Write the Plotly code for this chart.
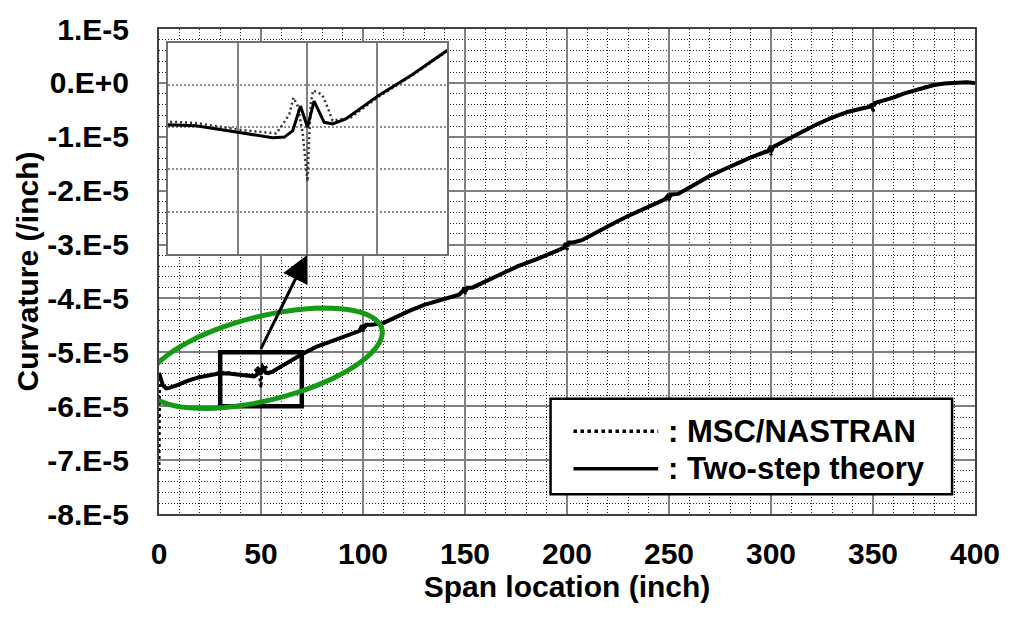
import math
import plotly.graph_objects as go

# ---------------- data (curvature values in units of 1E-5 /inch) ----------------
SCALE = 1e-5

span_two_step = [0, 1, 2, 3.5, 5, 9, 14, 19, 25,
                 30, 34, 40, 45, 46.7, 47.9, 49.0, 50.0, 50.95, 52.4, 53.6, 55.5, 60.1, 65, 70,
                 77, 83.6, 90, 96.7, 98.5, 99.5, 100.3, 101.5, 104, 109.7,
                 115, 122.7, 130, 140, 147.1, 149, 149.7, 150.3, 151.2, 153.6,
                 160, 168.3, 176, 184.6, 190, 196, 198.5, 199.3, 200.2, 201,
                 203, 207.3, 215, 223.6, 230, 236.6, 243, 248, 249.3, 250,
                 251, 254.5, 262, 269.2, 276, 282.2, 289, 295.2, 298.5, 299.4,
                 300.2, 301, 304, 308.3, 315, 321.3, 329, 337.5, 345, 349,
                 349.6, 350.3, 351, 355, 360.3, 365, 370.1, 375, 379.9, 385,
                 391.3, 396, 400]
curv_two_step = [-5.38, -5.50, -5.62, -5.67, -5.66, -5.61, -5.53, -5.47, -5.42,
                 -5.389, -5.393, -5.424, -5.45, -5.447, -5.416, -5.30, -5.40, -5.276, -5.377, -5.385, -5.361, -5.252, -5.151, -5.037,
                 -4.90, -4.81, -4.73, -4.63, -4.60, -4.50, -4.56, -4.49, -4.49, -4.46,
                 -4.36, -4.23, -4.12, -4.01, -3.93, -3.86, -3.80, -3.86, -3.80, -3.80,
                 -3.68, -3.53, -3.40, -3.28, -3.20, -3.11, -3.06, -2.98, -3.03, -2.96,
                 -2.96, -2.92, -2.76, -2.59, -2.47, -2.35, -2.24, -2.16, -2.10, -2.14,
                 -2.07, -2.06, -1.90, -1.74, -1.62, -1.51, -1.40, -1.31, -1.27, -1.21,
                 -1.25, -1.19, -1.13, -1.04, -0.91, -0.79, -0.66, -0.54, -0.47, -0.44,
                 -0.39, -0.43, -0.37, -0.33, -0.27, -0.20, -0.14, -0.08, -0.04, -0.01,
                 0.01, 0.01, 0.0]

span_nastran = [0, 0.3, 2, 3.5, 5, 9, 14, 19, 25,
                30, 34, 40, 45.5, 46.4, 47.4, 48.0, 48.6, 49.3, 49.8,
                50.0, 50.2, 50.5, 50.8, 52.1, 52.9, 53.6, 56.2, 60, 65,
                70, 77, 83.6, 90, 96.7, 99, 99.7, 100, 100.3, 101.5,
                104, 109.7, 115, 122.7, 130, 140, 147.1, 149.5, 150, 150.5,
                153.6, 160, 168.3, 176, 184.6, 190, 196, 199.3, 200, 200.7,
                203, 207.3, 215, 223.6, 230, 236.6, 243, 248, 249.6, 250,
                250.4, 254.5, 262, 269.2, 276, 282.2, 289, 295.2, 299.3, 300,
                300.7, 304, 308.3, 315, 321.3, 329, 337.5, 345, 349.4, 350,
                350.6, 355, 360.3, 365, 370.1, 375, 379.9, 385, 391.3, 396,
                400]
curv_nastran = [-7.2, -5.48, -5.60, -5.66, -5.66, -5.61, -5.53, -5.46, -5.41,
                -5.374, -5.38, -5.411, -5.43, -5.39, -5.338, -5.26, -5.30, -5.424, -5.595,
                -5.657, -5.486, -5.283, -5.226, -5.245, -5.307, -5.369, -5.354, -5.26, -5.155,
                -5.04, -4.90, -4.81, -4.73, -4.63, -4.55, -4.52, -4.64, -4.52, -4.49,
                -4.49, -4.46, -4.36, -4.23, -4.12, -4.01, -3.93, -3.82, -3.92, -3.82,
                -3.80, -3.68, -3.53, -3.40, -3.28, -3.20, -3.11, -3.00, -3.10, -2.98,
                -2.96, -2.92, -2.76, -2.59, -2.47, -2.35, -2.24, -2.16, -2.10, -2.20,
                -2.08, -2.06, -1.90, -1.74, -1.62, -1.51, -1.40, -1.31, -1.22, -1.34,
                -1.21, -1.13, -1.04, -0.91, -0.79, -0.66, -0.54, -0.47, -0.41, -0.55,
                -0.39, -0.33, -0.27, -0.20, -0.14, -0.08, -0.04, -0.01, 0.01, 0.01,
                0.0]

y_tick_vals = [1, 0, -1, -2, -3, -4, -5, -6, -7, -8]
y_tick_text = ["1.E-5", "0.E+0", "-1.E-5", "-2.E-5", "-3.E-5", "-4.E-5",
               "-5.E-5", "-6.E-5", "-7.E-5", "-8.E-5"]
x_tick_vals = [0, 50, 100, 150, 200, 250, 300, 350, 400]

zoom_x = [30, 70]          # zoomed window (inset)
zoom_y = [-6, -5]

legend_labels = [": MSC/NASTRAN", ": Two-step theory"]

# ---------------- figure ----------------
W, H = 1012, 620
ML, MR, MT, MB = 159, 34, 22, 106
FONT = "Liberation Sans, Arial, sans-serif"

y_nas = [v * SCALE for v in curv_nastran]
y_two = [v * SCALE for v in curv_two_step]

fig = go.Figure()
# main plot
fig.add_trace(go.Scatter(x=span_nastran, y=y_nas, mode="lines", name="MSC/NASTRAN",
                         line=dict(color="black", width=3, dash="dot"), showlegend=False,
                         xaxis="x", yaxis="y"))
fig.add_trace(go.Scatter(x=span_two_step, y=y_two, mode="lines", name="Two-step theory",
                         line=dict(color="black", width=4), showlegend=False,
                         xaxis="x", yaxis="y"))
# inset
fig.add_trace(go.Scatter(x=span_nastran, y=y_nas, mode="lines", name="MSC/NASTRAN",
                         line=dict(color="#333333", width=2.5, dash="2px,3px"), showlegend=False,
                         xaxis="x2", yaxis="y2"))
fig.add_trace(go.Scatter(x=span_two_step, y=y_two, mode="lines", name="Two-step theory",
                         line=dict(color="black", width=3), showlegend=False,
                         xaxis="x2", yaxis="y2"))

tickfont = dict(family=FONT, size=30, color="black", weight="bold")

fig.update_layout(
    width=W, height=H,
    margin=dict(l=ML, r=MR, t=MT, b=MB),
    paper_bgcolor="white", plot_bgcolor="white",
    showlegend=False,
    xaxis=dict(
        domain=[0, 1], range=[0, 400], tickvals=x_tick_vals,
        showgrid=True, gridcolor="#808080", gridwidth=2,
        minor=dict(tickmode="linear", tick0=0, dtick=10, showgrid=True,
                   gridcolor="#202020", gridwidth=1, griddash="1px,2px"),
        showline=True, mirror=True, linecolor="#404040", linewidth=2,
        zeroline=False, ticks="", tickfont=tickfont, ticklabelstandoff=12,
        title=dict(text="Span location (inch)", font=dict(family=FONT, size=30, color="black", weight="bold"),
                   standoff=6),
        fixedrange=True,
    ),
    yaxis=dict(
        domain=[0, 1], range=[-8 * SCALE, 1 * SCALE],
        tickvals=[v * SCALE for v in y_tick_vals], ticktext=y_tick_text,
        showgrid=True, gridcolor="#808080", gridwidth=2,
        minor=dict(tickmode="linear", tick0=0, dtick=0.2 * SCALE, showgrid=True,
                   gridcolor="#202020", gridwidth=1, griddash="1px,2px"),
        showline=True, mirror=True, linecolor="#404040", linewidth=2,
        zeroline=False, ticks="", tickfont=tickfont, ticklabelstandoff=22,
        title=dict(text="Curvature (/inch)", font=dict(family=FONT, size=30, color="black", weight="bold"),
                   standoff=0),
        fixedrange=True,
    ),
    xaxis2=dict(
        domain=[(168 - ML) / (W - ML - MR), (448 - ML) / (W - ML - MR)], anchor="y2",
        range=zoom_x, dtick=10, showticklabels=False, ticks="",
        showgrid=True, gridcolor="#808080", gridwidth=1.5,
        showline=True, mirror=True, linecolor="#707070", linewidth=1.5, zeroline=False,
        fixedrange=True,
    ),
    yaxis2=dict(
        domain=[(H - MB - 250) / (H - MT - MB), (H - MB - 36) / (H - MT - MB)], anchor="x2",
        range=[zoom_y[0] * SCALE, zoom_y[1] * SCALE], dtick=0.2 * SCALE,
        showticklabels=False, ticks="",
        showgrid=True, gridcolor="#8a8a8a", gridwidth=1.5, griddash="2px,2px",
        showline=True, mirror=True, linecolor="#707070", linewidth=1.5, zeroline=False,
        fixedrange=True,
    ),
)

# ---------------- annotations / decorations ----------------
plot_w = W - ML - MR
plot_h = H - MT - MB
px_per_x = plot_w / 400.0
px_per_y = plot_h / 9.0   # per 1E-5


def px_to_data(px, py):
    x = (px - ML) / px_per_x
    y = (1 - (py - MT) / px_per_y) * SCALE
    return x, y


# zoom window rectangle
fig.add_shape(type="rect", xref="x", yref="y",
              x0=zoom_x[0], x1=zoom_x[1], y0=zoom_y[0] * SCALE, y1=zoom_y[1] * SCALE,
              line=dict(color="black", width=4.5))

# green ellipse (rotated) around the start region
cx, cy, a, b, th = 264.9, 356.0, 121.5, 42.5, math.radians(-14.25)
pts = []
for i in range(73):
    t = 2 * math.pi * i / 72
    px = cx + a * math.cos(t) * math.cos(th) - b * math.sin(t) * math.sin(th)
    py = cy + a * math.cos(t) * math.sin(th) + b * math.sin(t) * math.cos(th)
    pts.append(px_to_data(px, py))
path = "M " + " L ".join(f"{x:.4f},{y:.10f}" for x, y in pts) + " Z"
fig.add_shape(type="path", xref="x", yref="y", path=path,
              line=dict(color="#169a16", width=5))

# arrow from the zoom rectangle to the inset
tip = px_to_data(308, 251)
tail = px_to_data(260.5, 348)
fig.add_annotation(x=tip[0], y=tip[1], ax=tail[0], ay=tail[1], xref="x", yref="y",
                   axref="x", ayref="y", text="", showarrow=True, arrowhead=2,
                   arrowsize=1.8, arrowwidth=3, arrowcolor="black", standoff=0)

# legend box (drawn manually to match the long line samples)
def pxp(px, py):
    return (px - ML) / plot_w, (H - MB - py) / plot_h

bx0, by0 = pxp(552, 494)
bx1, by1 = pxp(955, 397)
fig.add_shape(type="rect", xref="paper", yref="paper", x0=bx0, x1=bx1, y0=by0, y1=by1,
              fillcolor="white", line=dict(color="black", width=2.5), layer="above")
row_y = [430, 468]
dashes = ["dot", "solid"]
for lab, ry, dsh in zip(legend_labels, row_y, dashes):
    sx0, sy = pxp(575, ry)
    sx1, _ = pxp(660, ry)
    fig.add_shape(type="line", xref="paper", yref="paper", x0=sx0, x1=sx1, y0=sy, y1=sy,
                  line=dict(color="black", width=3.5, dash=dsh))
    tx, ty = pxp(668, ry)
    fig.add_annotation(x=tx, y=ty, xref="paper", yref="paper", text=lab, showarrow=False,
                       xanchor="left", yanchor="middle",
                       font=dict(family=FONT, size=31, color="black", weight="bold"))

fig.write_html("out.html")
